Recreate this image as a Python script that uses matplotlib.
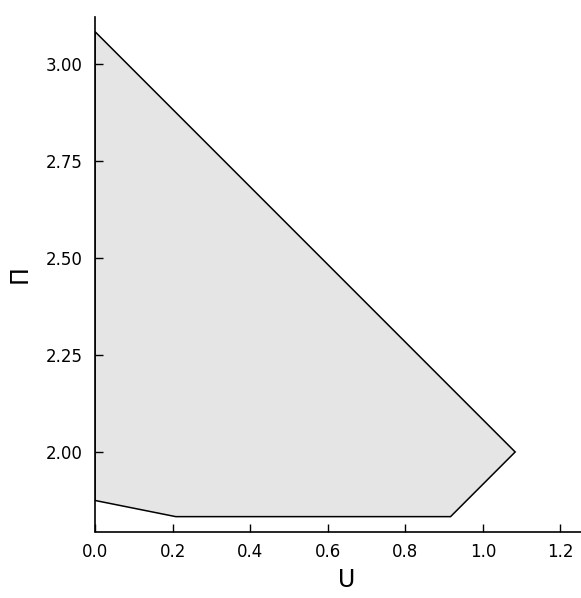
import matplotlib
matplotlib.use("Agg")
import matplotlib.pyplot as plt

# polygon vertices (U, Pi)
u_vals = [0.0, 1.0833, 0.9167, 0.2083, 0.0]
pi_vals = [3.0833, 2.0, 1.8333, 1.8333, 1.875]

xticks = [0.0, 0.2, 0.4, 0.6, 0.8, 1.0, 1.2]
yticks = [2.00, 2.25, 2.50, 2.75, 3.00]

W, H = 581, 598
fig = plt.figure(figsize=(W / 100, H / 100), dpi=100)
ax = fig.add_axes([95 / W, 1 - 531.5 / H, 1 - 95 / W, (531.5 - 17) / H])

ax.fill(u_vals, pi_vals, facecolor="#e5e5e5", edgecolor="black", linewidth=1.1)

ax.set_xlim(0, 1.253)
ax.set_ylim(1.795, 3.121)
ax.set_xticks(xticks)
ax.set_xticklabels([f"{t:.1f}" for t in xticks])
ax.set_yticks(yticks)
ax.set_yticklabels([f"{t:.2f}" for t in yticks])

for s in ["top", "right"]:
    ax.spines[s].set_visible(False)
for s in ["left", "bottom"]:
    ax.spines[s].set_linewidth(1.2)
ax.tick_params(direction="in", length=6, width=1, labelsize=12)
ax.tick_params(axis="x", pad=8)
ax.tick_params(axis="y", pad=9)

ax.set_xlabel("U", fontsize=17, va="center")
ax.set_ylabel("Π", fontsize=17, va="center")
ax.xaxis.set_label_coords(347 / W, 1 - 580 / H, transform=fig.transFigure)
ax.yaxis.set_label_coords(19.5 / W, 1 - 274 / H, transform=fig.transFigure)

fig.savefig("out.png", dpi=100)
